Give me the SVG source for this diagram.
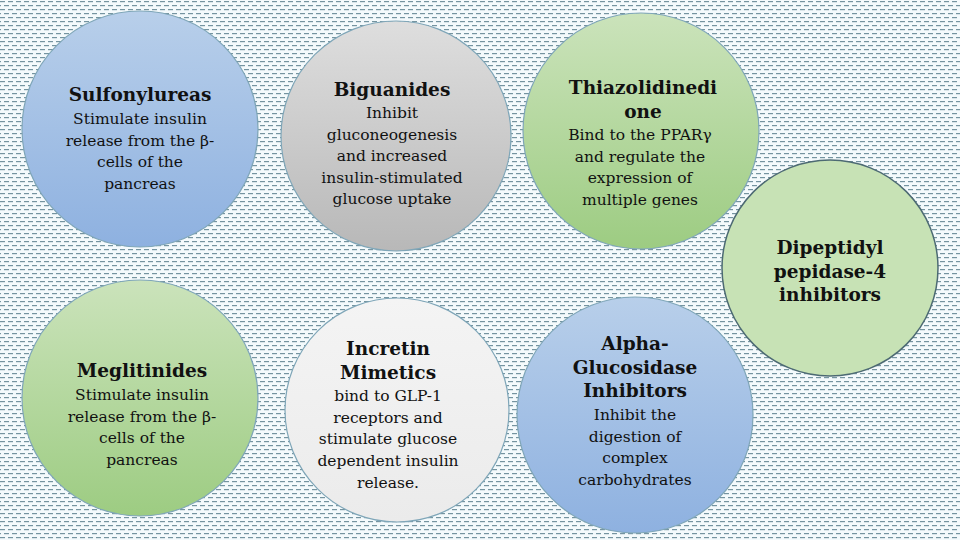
<svg xmlns="http://www.w3.org/2000/svg" width="960" height="540" viewBox="0 0 960 540">
<defs>
<pattern id="bg" width="8" height="8" patternUnits="userSpaceOnUse">
<rect width="8" height="8" fill="#f4fafc"/>
<rect x="0" y="1" width="5" height="1.2" fill="#7594a0"/>
<rect x="4" y="5" width="5" height="1.2" fill="#7594a0"/>
<rect x="-4" y="5" width="5" height="1.2" fill="#7594a0"/>
</pattern>
<linearGradient id="blue" x1="0" y1="0" x2="0" y2="1"><stop offset="0" stop-color="#b8cfea"/><stop offset="1" stop-color="#8eb1e0"/></linearGradient>
<linearGradient id="gray" x1="0" y1="0" x2="0" y2="1"><stop offset="0" stop-color="#dedede"/><stop offset="1" stop-color="#b8b8b8"/></linearGradient>
<linearGradient id="green" x1="0" y1="0" x2="0" y2="1"><stop offset="0" stop-color="#cbe3bb"/><stop offset="1" stop-color="#9dcc82"/></linearGradient>
<linearGradient id="white" x1="0" y1="0" x2="0" y2="1"><stop offset="0" stop-color="#f4f4f4"/><stop offset="1" stop-color="#ebebeb"/></linearGradient>
<style>
circle{stroke:#7fa6b8;stroke-width:1.2}
text{font-family:"DejaVu Serif","Liberation Serif",serif;fill:#111;text-anchor:middle}
.t{font-size:18.5px;font-weight:bold}
.b{font-size:15.5px}
</style>
</defs>
<rect width="960" height="540" fill="url(#bg)"/>
<g id="sulfonylureas"><circle cx="140" cy="129" r="118" fill="url(#blue)"/>
<text class="t" x="140" y="101">Sulfonylureas</text>
<text class="b" x="140" y="124">Stimulate insulin</text><text class="b" x="140" y="146">release from the β-</text><text class="b" x="140" y="167">cells of the</text><text class="b" x="140" y="189">pancreas</text></g>
<g id="biguanides"><circle cx="396" cy="136" r="115" fill="url(#gray)"/>
<text class="t" x="392" y="96">Biguanides</text>
<text class="b" x="392" y="118">Inhibit</text><text class="b" x="392" y="140">gluconeogenesis</text><text class="b" x="392" y="161">and increased</text><text class="b" x="392" y="183">insulin-stimulated</text><text class="b" x="392" y="204">glucose uptake</text></g>
<g id="thiazolidinedione"><circle cx="641" cy="131" r="118" fill="url(#green)"/>
<text class="t" x="643" y="94">Thiazolidinedi</text><text class="t" x="643" y="118">one</text>
<text class="b" x="640" y="140">Bind to the PPARγ</text><text class="b" x="640" y="162">and regulate the</text><text class="b" x="640" y="183">expression of</text><text class="b" x="640" y="205">multiple genes</text></g>
<g id="dpp4"><circle cx="830" cy="268" r="108" fill="#c7e2b5" style="stroke:#4d6a73;stroke-width:1.5"/>
<text class="t" x="830" y="254">Dipeptidyl</text><text class="t" x="830" y="278">pepidase-4</text><text class="t" x="830" y="301">inhibitors</text></g>
<g id="meglitinides"><circle cx="140" cy="398" r="118" fill="url(#green)"/>
<text class="t" x="142" y="377">Meglitinides</text>
<text class="b" x="142" y="400">Stimulate insulin</text><text class="b" x="142" y="422">release from the β-</text><text class="b" x="142" y="443">cells of the</text><text class="b" x="142" y="465">pancreas</text></g>
<g id="incretin"><circle cx="397" cy="410" r="112" fill="url(#white)"/>
<text class="t" x="388" y="355">Incretin</text><text class="t" x="388" y="379">Mimetics</text>
<text class="b" x="388" y="401">bind to GLP-1</text><text class="b" x="388" y="423">receptors and</text><text class="b" x="388" y="444">stimulate glucose</text><text class="b" x="388" y="466">dependent insulin</text><text class="b" x="388" y="488">release.</text></g>
<g id="alpha"><circle cx="635" cy="415" r="118" fill="url(#blue)"/>
<text class="t" x="635" y="350">Alpha-</text><text class="t" x="635" y="374">Glucosidase</text><text class="t" x="635" y="397">Inhibitors</text>
<text class="b" x="635" y="420">Inhibit the</text><text class="b" x="635" y="442">digestion of</text><text class="b" x="635" y="463">complex</text><text class="b" x="635" y="485">carbohydrates</text></g>
<g id="connectors"/>
</svg>
